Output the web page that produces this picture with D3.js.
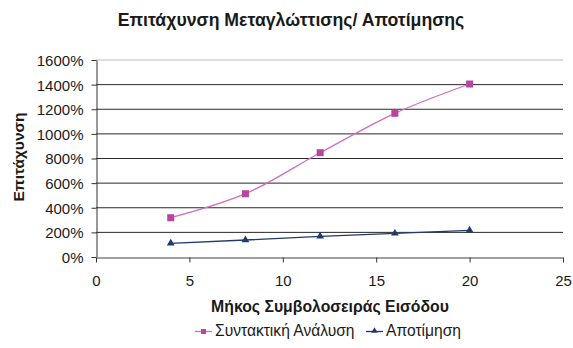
<!DOCTYPE html>
<html><head><meta charset="utf-8">
<script src="https://cdn.jsdelivr.net/npm/d3@7"></script>
<style>body{margin:0;background:#fff}svg{display:block;font-family:"Liberation Sans",Arial,sans-serif}</style>
</head><body>
<script>
const xValues = [4, 8, 12, 16, 20];
const syntaxValues = [319, 514, 847, 1167, 1405];
const evalValues = [111, 138, 168, 192, 217];
const seriesNames = ["Συντακτική Ανάλυση", "Αποτίμηση"];
const xTicks = [0, 5, 10, 15, 20, 25];
const yTicks = [0, 200, 400, 600, 800, 1000, 1200, 1400, 1600];
const title = "Επιτάχυνση Μεταγλώττισης/ Αποτίμησης";
const xTitle = "Μήκος Συμβολοσειράς Εισόδου";
const yTitle = "Επιτάχυνση";

const W = 573, H = 348;
const L = 96, R = 563, T = 60, B = 257;
const svg = d3.select("body").append("svg").attr("width", W).attr("height", H);
const x = d3.scaleLinear().domain([0, 25]).range([L, R]);
const y = d3.scaleLinear().domain([0, 1600]).range([B, T]);

// gridlines
svg.append("g").selectAll("line").data(yTicks.filter(d => d > 0)).join("line")
  .attr("x1", L).attr("x2", R).attr("y1", d => y(d)).attr("y2", d => y(d))
  .attr("stroke", d => d === 1600 ? "#bdbdbd" : "#2a2a2a").attr("stroke-width", 1);

// axes
const yAxis = svg.append("g").attr("transform", `translate(${L + 0.5},0)`)
  .call(d3.axisLeft(y).tickValues(yTicks).tickFormat(d => d + "%").tickSize(5).tickSizeOuter(0));
yAxis.select(".domain").attr("stroke", "#333");
yAxis.selectAll(".tick line").attr("stroke", "#333");
yAxis.selectAll("text").attr("font-size", 15).attr("fill", "#1a1a1a").attr("x", -13).attr("dy", "0.36em");

const xAxis = svg.append("g").attr("transform", `translate(0,${B + 0.5})`)
  .call(d3.axisBottom(x).tickValues(xTicks).tickSize(5).tickSizeOuter(0));
xAxis.select(".domain").attr("stroke", "#a0a0a0").attr("stroke-width", 2);
xAxis.selectAll(".tick line").attr("stroke", "#333");
xAxis.selectAll("text").attr("font-size", 15).attr("fill", "#1a1a1a").attr("y", 28).attr("dy", 0);

// lines
const pink = "#cf6ec4", pinkM = "#b8469e", navy = "#1f3a6e";
const line1 = d3.line().x((d, i) => x(xValues[i])).y(d => y(d)).curve(d3.curveCatmullRom.alpha(0.5));
const line2 = d3.line().x((d, i) => x(xValues[i])).y(d => y(d));
svg.append("path").datum(syntaxValues).attr("d", line1).attr("fill", "none").attr("stroke", pink).attr("stroke-width", 1.3);
svg.append("path").datum(evalValues).attr("d", line2).attr("fill", "none").attr("stroke", navy).attr("stroke-width", 1.3);

svg.append("g").selectAll("rect").data(syntaxValues).join("rect")
  .attr("x", (d, i) => x(xValues[i]) - 3.5).attr("y", d => y(d) - 3.5).attr("width", 7).attr("height", 7).attr("fill", pinkM);
const tri = d3.symbol().type(d3.symbolTriangle).size(26);
svg.append("g").selectAll("path").data(evalValues).join("path")
  .attr("transform", (d, i) => `translate(${x(xValues[i])},${y(d)})`).attr("d", tri).attr("fill", navy);

// titles
svg.append("text").attr("x", 291).attr("y", 26).attr("text-anchor", "middle")
  .attr("font-size", 17.7).attr("font-weight", "bold").attr("fill", "#1a1a1a").text(title);
svg.append("text").attr("x", 330).attr("y", 312).attr("text-anchor", "middle")
  .attr("font-size", 15.8).attr("font-weight", "bold").attr("fill", "#1a1a1a").text(xTitle);
svg.append("text").attr("transform", `translate(24,${157}) rotate(-90)`).attr("text-anchor", "middle")
  .attr("font-size", 15.5).attr("font-weight", "bold").attr("fill", "#1a1a1a").text(yTitle);

// legend
const lg = svg.append("g");
const items = [{name: seriesNames[0], x: 195, c: pink, m: pinkM, sym: "sq"}, {name: seriesNames[1], x: 366, c: navy, m: navy, sym: "tri"}];
items.forEach(it => {
  lg.append("line").attr("x1", it.x).attr("x2", it.x + 17).attr("y1", 331.5).attr("y2", 331.5).attr("stroke", it.c).attr("stroke-width", 1.3);
  if (it.sym === "sq") lg.append("rect").attr("x", it.x + 6).attr("y", 329).attr("width", 5).attr("height", 5).attr("fill", it.m);
  else lg.append("path").attr("transform", `translate(${it.x + 8.5},331)`).attr("d", d3.symbol().type(d3.symbolTriangle).size(18)).attr("fill", it.m);
  lg.append("text").attr("x", it.x + 20).attr("y", 336).attr("font-size", 15.6).attr("fill", "#1a1a1a").text(it.name);
});
</script>
</body></html>
